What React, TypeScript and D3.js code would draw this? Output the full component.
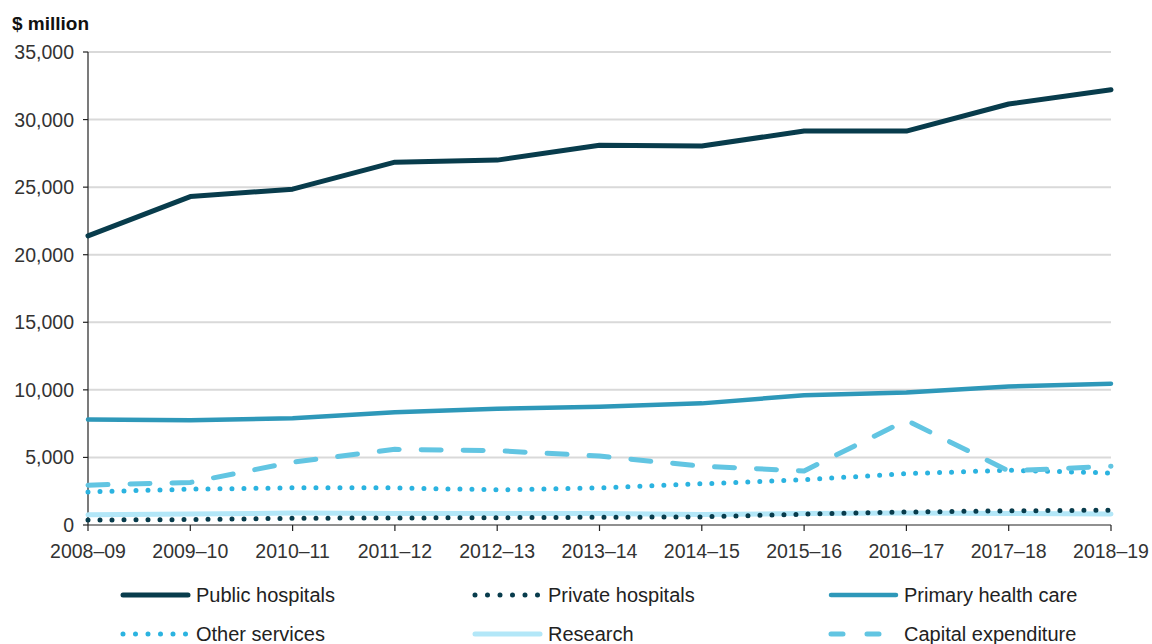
import React from "react";
import * as d3 from "d3";

const years = [
  "2008–09", "2009–10", "2010–11", "2011–12", "2012–13", "2013–14",
  "2014–15", "2015–16", "2016–17", "2017–18", "2018–19",
];
const publicHospitals = [21400, 24300, 24850, 26850, 27000, 28100, 28050, 29150, 29150, 31150, 32200];
const privateHospitals = [370, 400, 500, 520, 540, 570, 600, 800, 960, 1050, 1100];
const primaryCare = [7800, 7750, 7900, 8350, 8600, 8750, 9000, 9600, 9800, 10250, 10450];
const otherServices = [2450, 2650, 2750, 2750, 2600, 2750, 3050, 3350, 3800, 4050, 3850];
const research = [750, 820, 880, 850, 850, 850, 780, 850, 880, 850, 820];
const capital = [2950, 3150, 4650, 5600, 5500, 5100, 4350, 4000, 7750, 4000, 4350];
const yTicks = [0, 5000, 10000, 15000, 20000, 25000, 30000, 35000];

type Style = { color: string; width: number; dash?: string; legendDash?: string };
const series: { name: string; values: number[]; style: Style }[] = [
  { name: "Public hospitals", values: publicHospitals, style: { color: "#083c4c", width: 5 } },
  { name: "Private hospitals", values: privateHospitals, style: { color: "#083c4c", width: 5, dash: "0 12", legendDash: "0 12.5" } },
  { name: "Primary health care", values: primaryCare, style: { color: "#2e98b9", width: 4.5 } },
  { name: "Other services", values: otherServices, style: { color: "#2bb3e0", width: 5, dash: "0 12", legendDash: "0 12.5" } },
  { name: "Research", values: research, style: { color: "#b3e7f8", width: 5 } },
  { name: "Capital expenditure", values: capital, style: { color: "#62c5e2", width: 5, dash: "20 22", legendDash: "12 24" } },
];
// draw order: back to front
const drawOrder = [4, 1, 3, 5, 2, 0];

const W = 1152;
const H = 644;
const left = 88;
const right = 1111;
const top = 52;
const bottom = 525;
const font = "Liberation Sans, Arial, sans-serif";

export default function App() {
  const x = d3.scalePoint<string>().domain(years).range([left, right]);
  const y = d3.scaleLinear().domain([0, 35000]).range([bottom, top]);
  const line = d3
    .line<number>()
    .x((_, i) => x(years[i]) as number)
    .y((d) => y(d))
    .curve(d3.curveLinear);

  const legendCols = [120, 472, 828];
  const legendRows = [595, 634];

  return (
    <svg width={W} height={H} style={{ position: "absolute", left: 0, top: 0 }} fontFamily={font}>
      <rect width={W} height={H} fill="#fff" />
      <text x={12} y={30} fontSize={19} fontWeight="bold" fill="#111">$ million</text>

      {yTicks.map((t) => (
        <g key={t}>
          {t > 0 && (
            <line x1={left} x2={right} y1={y(t)} y2={y(t)} stroke="#d9d9d9" strokeWidth={2} />
          )}
          <line x1={left - 5} x2={left} y1={y(t)} y2={y(t)} stroke="#222" strokeWidth={1.2} />
          <text x={left - 14} y={y(t)} dy="0.36em" textAnchor="end" fontSize={19.5} fill="#333">
            {d3.format(",")(t)}
          </text>
        </g>
      ))}
      <line x1={left} x2={left} y1={top} y2={bottom} stroke="#222" strokeWidth={1.2} />
      <line x1={left} x2={right} y1={bottom} y2={bottom} stroke="#222" strokeWidth={1.2} />
      {years.map((yr) => (
        <g key={yr}>
          <line x1={x(yr)} x2={x(yr)} y1={bottom} y2={bottom + 6} stroke="#222" strokeWidth={1.2} />
          <text x={x(yr)} y={bottom + 33} textAnchor="middle" fontSize={19.5} fill="#333">{yr}</text>
        </g>
      ))}

      {drawOrder.map((i) => {
        const s = series[i];
        return (
          <path
            key={s.name}
            d={line(s.values) || ""}
            fill="none"
            stroke={s.style.color}
            strokeWidth={s.style.width}
            strokeDasharray={s.style.dash}
            strokeLinecap="round"
            strokeLinejoin="round"
          />
        );
      })}

      {series.map((s, i) => {
        const lx = legendCols[i % 3];
        const ly = legendRows[Math.floor(i / 3)];
        return (
          <g key={s.name}>
            <line
              x1={lx + 3}
              x2={lx + 68}
              y1={ly}
              y2={ly}
              stroke={s.style.color}
              strokeWidth={s.style.width}
              strokeDasharray={s.style.legendDash}
              strokeLinecap="round"
            />
            <text x={lx + 76} y={ly} dy="0.36em" fontSize={20} fill="#222">{s.name}</text>
          </g>
        );
      })}
    </svg>
  );
}
